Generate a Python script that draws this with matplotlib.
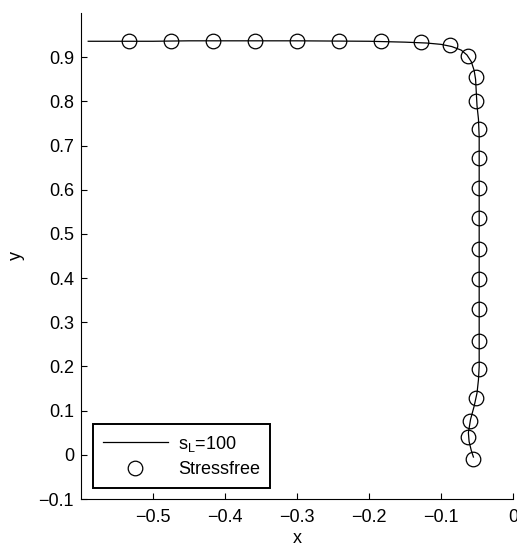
import numpy as np
import matplotlib
matplotlib.use("Agg")
import matplotlib.pyplot as plt

plt.rcParams['font.family'] = ['Liberation Sans', 'DejaVu Sans']
plt.rcParams['mathtext.fontset'] = 'custom'
plt.rcParams['mathtext.rm'] = 'Liberation Sans'
plt.rcParams['mathtext.it'] = 'Liberation Sans'

# interface curve for s_L = 100
line_x = [-0.590, -0.500, -0.450, -0.300, -0.200, -0.150, -0.120, -0.100,
          -0.085, -0.072, -0.064, -0.058, -0.054, -0.052, -0.051, -0.050,
          -0.048, -0.047, -0.047, -0.048, -0.050, -0.054, -0.059, -0.062,
          -0.061, -0.058, -0.055]
line_y = [0.936, 0.936, 0.937, 0.937, 0.936, 0.934, 0.932, 0.929,
          0.924, 0.916, 0.905, 0.890, 0.870, 0.850, 0.820, 0.790,
          0.760, 0.720, 0.200, 0.170, 0.140, 0.110, 0.080, 0.050,
          0.030, 0.010, -0.005]

# stress free reference points
free_x = [-0.533, -0.475, -0.416, -0.358, -0.300, -0.242, -0.184, -0.128,
          -0.087, -0.063, -0.051, -0.051, -0.047, -0.047, -0.047, -0.047,
          -0.047, -0.047, -0.047, -0.047, -0.047, -0.051, -0.060, -0.063,
          -0.055]
free_y = [0.936, 0.936, 0.936, 0.936, 0.937, 0.937, 0.936, 0.935,
          0.927, 0.903, 0.855, 0.800, 0.738, 0.671, 0.605, 0.537,
          0.466, 0.398, 0.330, 0.258, 0.194, 0.129, 0.077, 0.040,
          -0.010]

xticks = [-0.5, -0.4, -0.3, -0.2, -0.1, 0]
xticklabels = ['\u22120.5', '\u22120.4', '\u22120.3', '\u22120.2', '\u22120.1', '0']
yticks = [-0.1, 0, 0.1, 0.2, 0.3, 0.4, 0.5, 0.6, 0.7, 0.8, 0.9]
yticklabels = ['\u22120.1', '0', '0.1', '0.2', '0.3', '0.4', '0.5', '0.6',
               '0.7', '0.8', '0.9']

fig = plt.figure(figsize=(5.17, 5.48), dpi=100)
ax = fig.add_axes([0.1567, 0.0894, 0.8356, 0.8869])

ax.plot(line_x, line_y, '-', color='black', lw=0.9, label=r'$\mathregular{s_L}$=100')
ax.plot(free_x, free_y, 'o', mfc='none', mec='black', mew=0.9, ms=10.5,
        label='Stressfree')

ax.set_xlim(-0.6, 0)
ax.set_ylim(-0.1, 1.0)
ax.set_xticks(xticks)
ax.set_xticklabels(xticklabels)
ax.set_yticks(yticks)
ax.set_yticklabels(yticklabels)
ax.tick_params(direction='in', length=4, width=0.8, labelsize=13, colors='black')
ax.tick_params(axis='x', pad=7)
ax.tick_params(axis='y', pad=5)
for s in ['top', 'right']:
    ax.spines[s].set_visible(False)
for s in ['left', 'bottom']:
    ax.spines[s].set_linewidth(0.8)
    ax.spines[s].set_color('black')

ax.set_xlabel('x', fontsize=13, labelpad=3)
ax.set_ylabel('y', fontsize=13, labelpad=10)

leg = ax.legend(loc='lower left', bbox_to_anchor=(0.027, 0.023), borderaxespad=0,
                fontsize=13, fancybox=False, framealpha=1, handlelength=3.6,
                handletextpad=0.6, borderpad=0.55, labelspacing=0.4)
leg.get_frame().set_edgecolor('black')
leg.get_frame().set_linewidth(1.4)

fig.savefig('out.png', dpi=100)
